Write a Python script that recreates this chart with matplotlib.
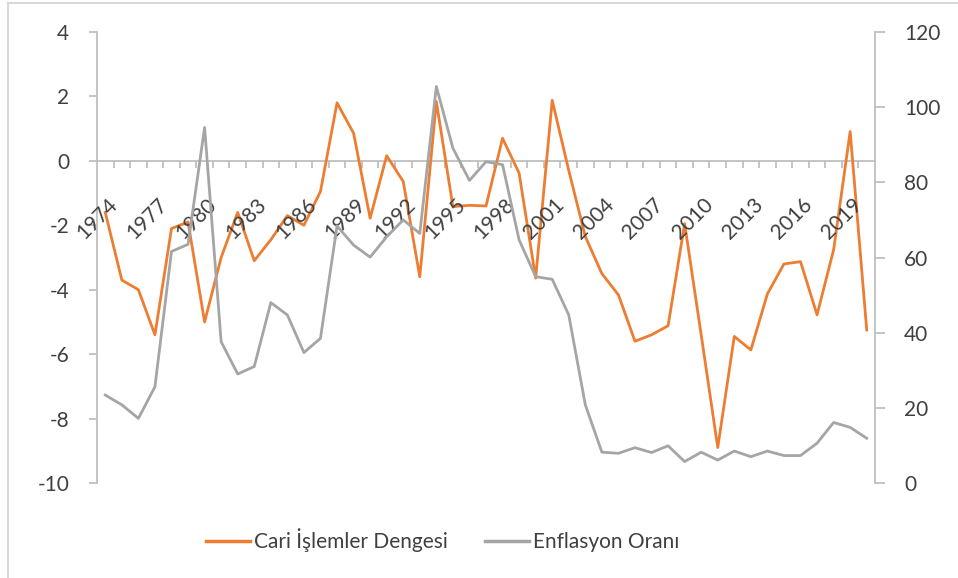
import matplotlib
matplotlib.use("Agg")
import matplotlib.pyplot as plt
from matplotlib.lines import Line2D
import numpy as np

years = list(range(1974, 2021))
cari = [-1.6, -3.7, -4.0, -5.4, -2.1, -1.9, -5.0, -3.0, -1.6, -3.1,
        -2.45, -1.7, -2.0, -0.95, 1.8, 0.86, -1.78, 0.16, -0.64, -3.6,
        1.84, -1.42, -1.38, -1.4, 0.7, -0.38, -3.64, 1.88, -0.3, -2.35,
        -3.5, -4.16, -5.6, -5.4, -5.12, -1.95, -5.4, -8.9, -5.45, -5.87,
        -4.13, -3.2, -3.13, -4.78, -2.76, 0.91, -5.25]
enflasyon = [23.4, 20.8, 17.2, 25.6, 61.6, 63.5, 94.6, 37.6, 29.0, 31.0,
             48.0, 44.7, 34.7, 38.5, 68.4, 63.3, 60.1, 65.5, 70.0, 66.4,
             105.5, 89.1, 80.5, 85.5, 84.7, 64.7, 54.9, 54.2, 44.7, 20.8,
             8.2, 7.9, 9.4, 8.1, 9.9, 5.7, 8.2, 6.1, 8.5, 7.0,
             8.5, 7.3, 7.3, 10.6, 16.1, 14.8, 11.9]
label_years = list(range(1974, 2020, 3))
left_ticks = [-10, -8, -6, -4, -2, 0, 2, 4]
right_ticks = [0, 20, 40, 60, 80, 100, 120]
series_names = ["Cari İşlemler Dengesi", "Enflasyon Oranı"]

ORANGE = "#ED7D31"
GRAY = "#A5A5A5"
AXC = "#BFBFBF"
TXT = "#404040"
FONT = ["Lato", "DejaVu Sans"]
plt.rcParams["font.family"] = FONT
FS = 15

W, H = 958, 578
fig = plt.figure(figsize=(W / 100, H / 100), dpi=100)
L, R, T, B = 97, 875, 32, 483
ax = fig.add_axes([L / W, 1 - B / H, (R - L) / W, (B - T) / H])
ax2 = ax.twinx()

x = np.arange(len(years))
ax.plot(x, cari, color=ORANGE, lw=2.0, solid_joinstyle="round", zorder=3)
ax2.plot(x, enflasyon, color=GRAY, lw=2.0, solid_joinstyle="round", zorder=3)

ax.set_xlim(-0.5, len(years) - 0.5)
ax.set_ylim(-10, 4)
ax2.set_ylim(0, 120)
ax.set_yticks(left_ticks)
ax.set_yticklabels([str(v) for v in left_ticks])
ax2.set_yticks(right_ticks)
ax2.set_yticklabels([str(v) for v in right_ticks])

for a in (ax, ax2):
    a.patch.set_visible(False)
    a.spines["top"].set_visible(False)
    for s in a.spines.values():
        s.set_color(AXC)
        s.set_linewidth(1.3)
ax2.spines["bottom"].set_visible(False)
ax2.spines["left"].set_visible(False)
ax.spines["right"].set_visible(False)
ax.spines["bottom"].set_position(("data", 0))

ax.tick_params(axis="y", length=6, width=1.3, color=AXC, pad=14,
               labelsize=FS, labelcolor=TXT)
ax2.tick_params(axis="y", length=7, width=1.3, color=AXC, pad=14,
                labelsize=FS, labelcolor=TXT)

ax.set_xticks(np.arange(len(years) - 1) + 0.5)
ax.tick_params(axis="x", length=5, width=1.3, color=AXC, labelbottom=False)

for yr in label_years:
    i = years.index(yr)
    ax.annotate(str(yr), xy=(i, 0), xycoords="data", xytext=(9, -41),
                textcoords="offset pixels", rotation=45, ha="right",
                va="center", rotation_mode="anchor", fontsize=FS,
                color=TXT, annotation_clip=False)

handles = [Line2D([], [], color=ORANGE, lw=2.5), Line2D([], [], color=GRAY, lw=2.5)]
fig.legend(handles, series_names, loc="center", ncol=2,
           bbox_to_anchor=(443 / W, 1 - 540 / H), frameon=False,
           fontsize=FS, handlelength=2.1, handletextpad=0.2,
           columnspacing=1.8, labelcolor=TXT)

fig.add_artist(Line2D([8 / W, 8 / W], [0, 1 - 3 / H], transform=fig.transFigure,
                      color="#D9D9D9", lw=1.5))
fig.add_artist(Line2D([8 / W, 1], [1 - 3 / H, 1 - 3 / H], transform=fig.transFigure,
                      color="#D9D9D9", lw=1.5))

fig.savefig("out.png", dpi=100)
